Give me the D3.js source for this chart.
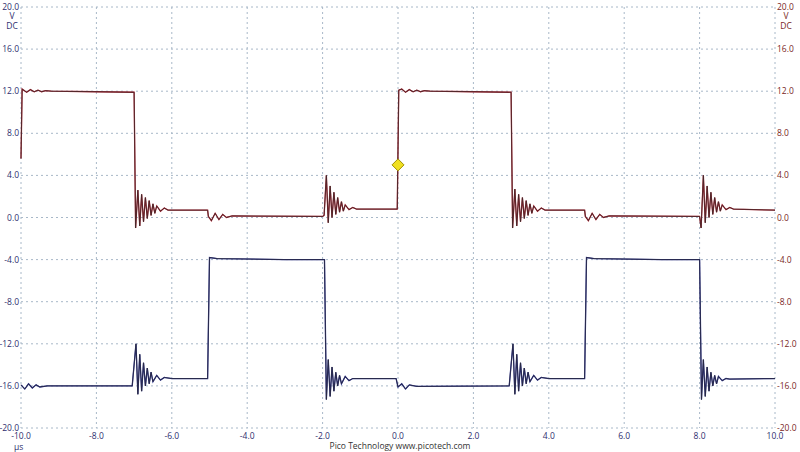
<!DOCTYPE html><html><head><meta charset="utf-8"><script src="https://cdn.jsdelivr.net/npm/d3@7"></script>
<style>body{margin:0;background:#fff}</style></head><body><svg id="c" width="800" height="452"></svg><script>
const xTicks=[-10,-8,-6,-4,-2,0,2,4,6,8,10];
const yTicks=[20,16,12,8,4,0,-4,-8,-12,-16,-20];
const redT=[-10,-9.97,-9.85,-9.75,-9.65,-9.55,-9.45,-9.35,-9.2,-8,-7,-6.96,-6.9,-6.85,-6.8,-6.75,-6.7,-6.65,-6.6,-6.55,-6.5,-6.45,-6.4,-6.3,-6.2,-6.1,-5.05,-5.03,-4.95,-4.85,-4.75,-4.65,-4.55,-4.4,-2.0,-1.96,-1.9,-1.85,-1.8,-1.75,-1.7,-1.65,-1.6,-1.55,-1.5,-1.45,-1.4,-1.3,-1.2,-1.1,-0.02,0.02,0.1,0.2,0.3,0.4,0.5,0.6,0.7,0.85,2,3.0,3.04,3.1,3.15,3.2,3.25,3.3,3.35,3.4,3.45,3.5,3.55,3.6,3.7,3.8,3.9,4.95,4.97,5.05,5.15,5.25,5.35,5.45,5.6,8.0,8.04,8.1,8.15,8.2,8.25,8.3,8.35,8.4,8.45,8.5,8.55,8.6,8.7,8.8,8.9,10];
const redV=[5.6,12.2,11.9,12.15,11.95,12.1,11.95,12.05,12.0,11.95,11.9,-1.0,2.6,-0.8,2.2,-0.4,1.9,-0.1,1.6,0.2,1.3,0.4,1.1,0.6,0.9,0.7,0.7,0.1,-0.3,0.4,-0.2,0.3,0.0,0.15,0.1,0.2,4.0,-0.5,3.0,0.0,2.4,0.3,1.9,0.5,1.5,0.6,1.2,0.75,0.95,0.8,0.8,12.1,12.2,11.9,12.15,11.95,12.1,11.95,12.05,12.0,11.95,11.9,-1.0,2.7,-0.8,2.2,-0.4,1.9,-0.1,1.6,0.2,1.3,0.4,1.1,0.6,0.9,0.7,0.7,0.1,-0.3,0.4,-0.2,0.3,0.0,0.15,0.1,-1.0,4.0,-0.5,3.0,0.0,2.4,0.3,1.9,0.5,1.5,0.6,1.2,0.75,0.95,0.8,0.7];
const blueT=[-10,-9.9,-9.8,-9.7,-9.6,-9.5,-9.3,-7.05,-6.95,-6.9,-6.85,-6.8,-6.75,-6.7,-6.65,-6.6,-6.55,-6.5,-6.4,-6.3,-6.2,-6.0,-5.05,-5.0,-4.8,-3.0,-1.95,-1.9,-1.85,-1.8,-1.75,-1.7,-1.65,-1.6,-1.55,-1.5,-1.4,-1.3,-1.2,-0.05,0.0,0.1,0.2,0.3,0.5,2.95,3.05,3.1,3.15,3.2,3.25,3.3,3.35,3.4,3.45,3.5,3.6,3.7,3.8,4.0,4.95,5.0,5.2,7.0,8.0,8.05,8.1,8.15,8.2,8.25,8.3,8.35,8.4,8.45,8.5,8.6,8.7,8.8,10];
const blueV=[-15.9,-16.3,-15.8,-16.2,-15.9,-16.1,-16.0,-16.0,-12.0,-16.8,-13.0,-16.5,-13.8,-16.0,-14.3,-15.8,-14.7,-15.6,-15.0,-15.45,-15.2,-15.3,-15.3,-3.8,-3.9,-4.0,-4.0,-17.3,-13.5,-17.0,-14.2,-16.5,-14.7,-16.0,-15.0,-15.8,-15.1,-15.5,-15.3,-15.3,-16.1,-15.8,-16.3,-15.9,-16.05,-16.0,-12.0,-16.8,-13.0,-16.5,-13.8,-16.0,-14.3,-15.8,-14.7,-15.6,-15.0,-15.45,-15.2,-15.3,-15.3,-3.8,-3.9,-4.0,-4.0,-17.3,-13.5,-17.0,-14.2,-16.5,-14.7,-16.0,-15.0,-15.8,-15.1,-15.5,-15.3,-15.35,-15.3];
const marker={t:0,v:5.0};
const svg=d3.select("#c");
const x=d3.scaleLinear().domain([-10,10]).range([21,775]);
const y=d3.scaleLinear().domain([-20,20]).range([428,7]);
const g=svg.append("g");
g.selectAll(".vx").data(xTicks).join("line").attr("x1",d=>x(d)).attr("x2",d=>x(d)).attr("y1",y(20)).attr("y2",y(-20)).attr("stroke","#a8b8c8").attr("stroke-dasharray","2,3");
g.selectAll(".hy").data(yTicks).join("line").attr("x1",x(-10)).attr("x2",x(10)).attr("y1",d=>y(d)).attr("y2",d=>y(d)).attr("stroke","#a8b8c8").attr("stroke-dasharray","2,3");
const f="font-family:'Open Sans',sans-serif;font-size:8.5px";
g.selectAll(".ly").data(yTicks).join("text").attr("x",19).attr("y",d=>y(d)+3).attr("text-anchor","end").attr("style",f).attr("fill","#2e2e6e").text(d=>d.toFixed(1));
g.selectAll(".ry").data(yTicks).join("text").attr("x",777).attr("y",d=>y(d)+3).attr("text-anchor","start").attr("style",f).attr("fill","#7a1f25").text(d=>d.toFixed(1));
g.selectAll(".lx").data(xTicks).join("text").attr("x",d=>x(d)).attr("y",439).attr("text-anchor","middle").attr("style",f).attr("fill","#2e2e6e").text(d=>d.toFixed(1));
[["V",19],["DC",29]].forEach(([t,yy])=>{g.append("text").attr("x",12).attr("y",yy).attr("text-anchor","middle").attr("style",f).attr("fill","#2e2e6e").text(t);g.append("text").attr("x",786).attr("y",yy).attr("text-anchor","middle").attr("style",f).attr("fill","#7a1f25").text(t);});
g.append("text").attr("x",14).attr("y",450).attr("style",f).attr("fill","#2e2e6e").text("μs");
g.append("text").attr("x",400).attr("y",449).attr("text-anchor","middle").attr("style",f).attr("fill","#333").text("Pico Technology   www.picotech.com");
const line=d3.line().x(d=>x(d[0])).y(d=>y(d[1]));
const red=redT.map((t,i)=>[t,redV[i]]), blue=blueT.map((t,i)=>[t,blueV[i]]);
g.append("path").attr("d",line(red)).attr("fill","none").attr("stroke","#b02030").attr("stroke-width",1.3);
g.append("path").attr("d",line(red)).attr("fill","none").attr("stroke","#3a2a2a").attr("stroke-width",0.8);
g.append("path").attr("d",line(blue)).attr("fill","none").attr("stroke","#2a3090").attr("stroke-width",1.3);
g.append("path").attr("d",line(blue)).attr("fill","none").attr("stroke","#2a2a3a").attr("stroke-width",0.8);
const mx=x(marker.t),my=y(marker.v);
g.append("path").attr("d",`M${mx},${my-6}L${mx+6},${my}L${mx},${my+6}L${mx-6},${my}Z`).attr("fill","#f0e020").attr("stroke","#a09000");
</script></body></html>
